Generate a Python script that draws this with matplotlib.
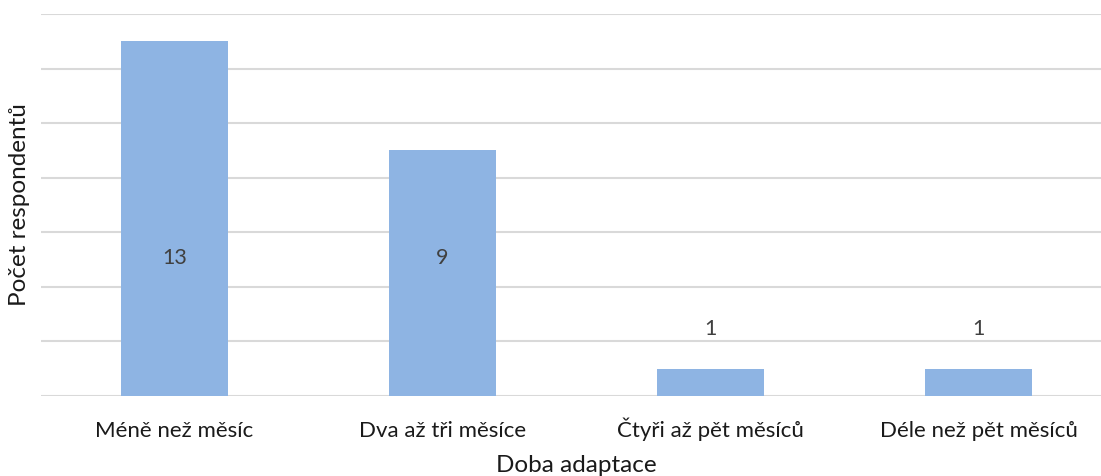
import matplotlib.pyplot as plt
import numpy as np

# adaptation period categories and respondent counts
categories = ['Méně než měsíc', 'Dva až tři měsíce', 'Čtyři až pět měsíců', 'Déle než pět měsíců']
counts = [13, 9, 1, 1]

plt.rcParams['font.family'] = ['Lato', 'DejaVu Sans']

fig = plt.figure(figsize=(11.01, 4.77), dpi=100)
ax = fig.add_axes([40.5 / 1101, 80 / 477, 1 - 40.5 / 1101, 382 / 477])

x = np.arange(len(categories))
ax.bar(x, counts, width=0.4, color='#8EB4E3', zorder=2)

# value labels: inside the tall bars, above the short ones
for xi, v in zip(x, counts):
    y = 5.1 if v > 2 else v + 1.5
    ax.text(xi, y, str(v), ha='center', va='center', fontsize=15.5, color='#404040', zorder=3)

ax.set_xlim(-0.5, 3.457)
ax.set_ylim(0, 14)
ax.set_yticks(np.arange(0, 15, 2))
ax.set_yticklabels([])
ax.set_xticks(x)
ax.set_xticklabels(categories, fontsize=16, color='#1a1a1a')
# put all category labels on one baseline
for lbl in ax.get_xticklabels():
    lbl.set_verticalalignment('baseline')
ax.tick_params(axis='x', length=0, pad=28.5)
ax.tick_params(axis='y', length=0, pad=0)
ax.grid(axis='y', color='#d9d9d9', linewidth=1.5, zorder=0)
for s in ax.spines.values():
    s.set_visible(False)

fig.text(576 / 1101, 1 - 466 / 477, 'Doba adaptace', ha='center', va='center', fontsize=17.5, color='#1a1a1a')
fig.text(20 / 1101, 1 - 205 / 477, 'Počet respondentů', ha='center', va='center', rotation=90, fontsize=17.5, color='#1a1a1a')

fig.savefig('out.png', dpi=100, facecolor='white')
